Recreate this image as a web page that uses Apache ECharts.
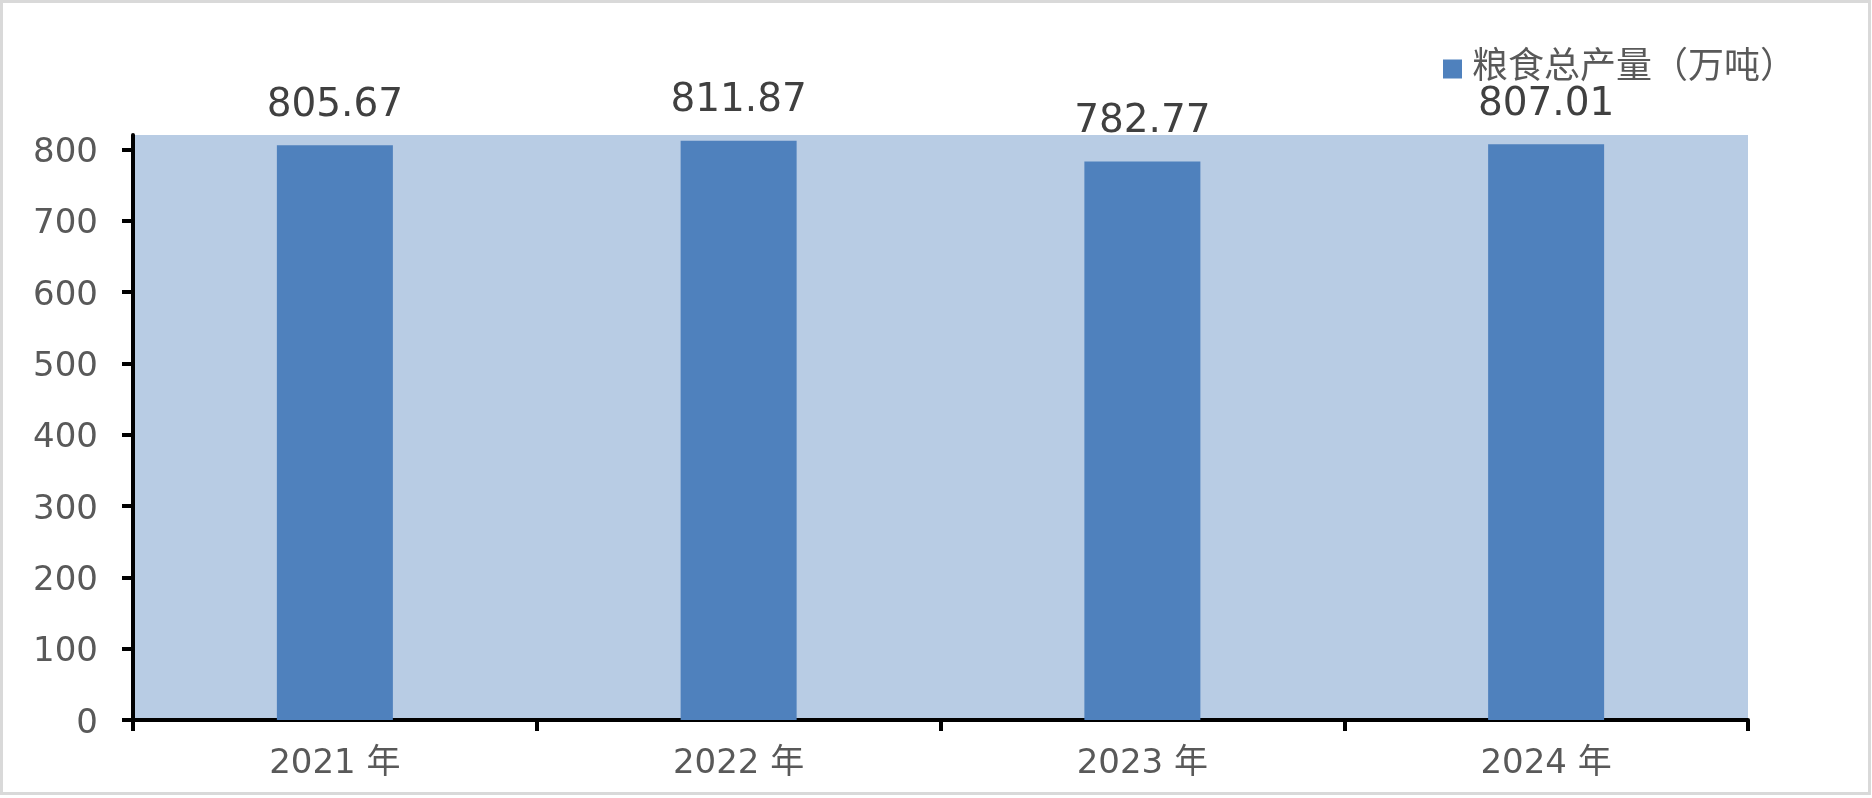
<!DOCTYPE html>
<html>
<head>
<meta charset="utf-8">
<script src="https://cdn.jsdelivr.net/npm/echarts@6/dist/echarts.min.js"></script>
<style>
html,body{margin:0;padding:0;background:#fff;}
#c{width:1872px;height:798px;}
</style>
</head>
<body>
<div id="c"></div>
<script>
const categories = ['2021 年', '2022 年', '2023 年', '2024 年'];
const seriesName = '粮食总产量（万吨）';
const values = [805.67, 811.87, 782.77, 807.01];
const yTicks = [0, 100, 200, 300, 400, 500, 600, 700, 800];

const FONT = "'DejaVu Sans', 'Noto Sans CJK SC', sans-serif";
const chart = echarts.init(document.getElementById('c'), null, {renderer: 'canvas'});
chart.setOption({
  animation: false,
  backgroundColor: '#ffffff',
  graphic: [{
    type: 'rect',
    shape: {x: 1.5, y: 1.5, width: 1868, height: 792},
    style: {fill: 'none', stroke: '#d9d9d9', lineWidth: 3},
    silent: true
  }],
  grid: {
    left: 133, right: 124, top: 135, bottom: 78,
    show: true, backgroundColor: '#b8cce4', borderWidth: 0,
    containLabel: false
  },
  legend: {
    data: [seriesName],
    left: 1443, top: 51, padding: 0,
    icon: 'rect', itemWidth: 19, itemHeight: 19,
    textStyle: {fontFamily: FONT, fontSize: 36, color: '#595959', padding: [0, 0, 0, 5]}
  },
  xAxis: {
    type: 'category',
    data: categories,
    boundaryGap: true,
    axisLine: {show: true, lineStyle: {color: '#000', width: 4}},
    axisTick: {show: true, interval: 0, alignWithLabel: false, length: 11, lineStyle: {color: '#000', width: 4}},
    axisLabel: {fontFamily: FONT, fontSize: 34, color: '#595959', margin: 27, interval: 0},
    splitLine: {show: false}
  },
  yAxis: {
    type: 'value',
    min: 0, max: 820, interval: 100,
    axisLine: {show: true, lineStyle: {color: '#000', width: 4}},
    axisTick: {show: true, length: 11, lineStyle: {color: '#000', width: 4}, customValues: yTicks},
    axisLabel: {fontFamily: FONT, fontSize: 34, color: '#595959', margin: 35,
      verticalAlign: 'top', lineHeight: 8, customValues: yTicks},
    splitLine: {show: false}
  },
  series: [{
    name: seriesName,
    type: 'bar',
    data: values,
    barWidth: 116,
    itemStyle: {color: '#4f81bd'},
    label: {
      show: true, position: 'top', distance: 20,
      fontFamily: FONT, fontSize: 39, color: '#404040',
      formatter: p => p.value.toFixed(2)
    }
  }]
});
</script>
</body>
</html>
